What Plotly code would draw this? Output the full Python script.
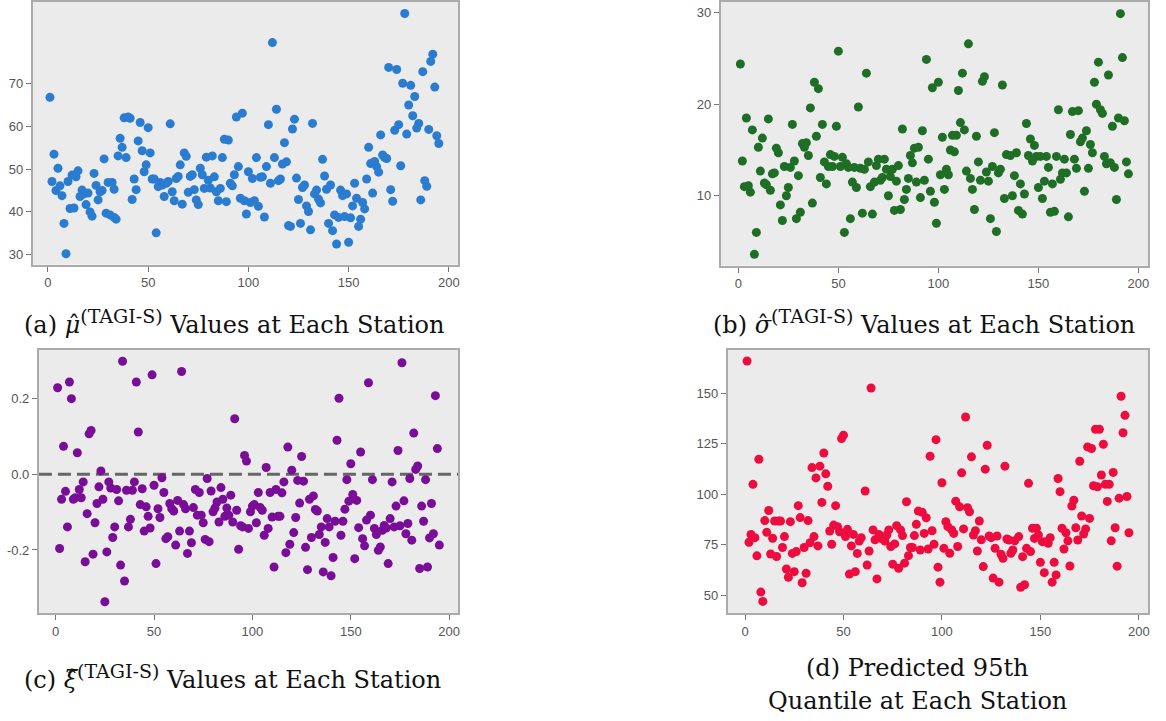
import plotly.graph_objects as go

W, H = 1166, 721

# ---- (a) location parameter per station ----
mu_station = [1, 2, 3, 4, 5, 6, 7, 8, 9, 10, 11, 12, 13, 14, 15, 16, 17, 18, 19, 20,
              21, 22, 23, 24, 25, 26, 27, 28, 29, 30, 31, 32, 33, 33, 34, 35, 36, 37, 38, 39,
              40, 41, 42, 43, 44, 45, 46, 47, 48, 49, 50, 51, 52, 53, 54, 55, 56, 57, 58, 59,
              60, 61, 62, 63, 64, 65, 66, 67, 68, 69, 70, 71, 72, 73, 74, 75, 76, 77, 78, 79,
              80, 81, 82, 83, 84, 85, 86, 87, 88, 89, 90, 91, 92, 93, 94, 95, 96, 97, 98, 99,
              100, 101, 102, 103, 104, 105, 106, 107, 108, 109, 110, 111, 112, 113, 114, 115, 116, 117, 118, 119,
              120, 121, 122, 123, 124, 125, 126, 127, 128, 129, 130, 131, 132, 133, 134, 135, 136, 137, 138, 139,
              140, 141, 142, 143, 144, 145, 146, 147, 148, 149, 150, 151, 152, 153, 154, 155, 156, 157, 158, 159,
              160, 161, 162, 163, 164, 165, 166, 167, 168, 169, 170, 171, 172, 173, 174, 175, 176, 177, 178, 179,
              180, 181, 182, 183, 184, 185, 186, 187, 188, 189, 190, 191, 192, 193, 194, 195]
mu_value = [66.8, 47.1, 53.5, 45.0, 50.2, 46.1, 43.8, 37.3, 30.2, 47.1, 40.8, 48.6, 40.9, 48.2, 49.6, 43.6, 45.1, 44.2, 41.7, 44.4,
            40.0, 39.0, 49.0, 46.2, 42.8, 44.7, 45.0, 52.4, 39.7, 46.9, 39.3, 46.9, 38.7, 45.3, 38.3, 53.1, 57.2, 55.1, 62.0, 52.7,
            62.2, 61.9, 42.9, 47.7, 45.2, 56.6, 60.9, 54.3, 49.4, 51.0, 59.7, 53.8, 47.7, 47.7, 35.1, 45.9, 46.9, 46.3, 43.6, 46.7,
            47.1, 60.6, 44.7, 42.6, 47.8, 48.3, 51.0, 41.8, 53.8, 53.0, 44.6, 48.3, 48.7, 45.2, 42.8, 41.7, 50.2, 48.7, 45.5, 52.8,
            47.4, 45.6, 53.1, 48.2, 44.7, 42.6, 45.5, 52.7, 57.0, 42.4, 56.8, 46.7, 46.1, 48.7, 62.2, 50.6, 43.2, 63.1, 42.6, 39.5,
            49.4, 42.2, 47.8, 42.6, 52.7, 41.3, 48.1, 48.2, 38.8, 50.6, 60.4, 46.7, 79.6, 52.7, 64.0, 47.3, 47.7, 51.2, 56.2, 51.7,
            36.8, 36.6, 59.4, 61.7, 47.9, 42.9, 37.3, 45.7, 46.3, 41.4, 40.1, 35.8, 60.7, 44.2, 45.1, 43.0, 42.1, 52.3, 48.4, 45.3,
            37.3, 46.3, 35.6, 39.3, 32.5, 38.7, 45.1, 43.8, 38.9, 44.2, 32.9, 38.6, 41.4, 46.7, 43.2, 36.6, 38.3, 42.2, 40.7, 47.7,
            55.1, 51.3, 44.4, 51.8, 50.6, 49.3, 58.0, 53.3, 52.7, 52.5, 73.8, 45.2, 42.5, 59.1, 73.3, 60.4, 50.8, 70.1, 86.4, 58.2,
            65.0, 69.6, 62.5, 67.0, 59.6, 60.7, 42.8, 72.8, 47.3, 46.0, 59.3, 75.2, 76.9, 69.2, 57.8, 56.0]

# ---- (b) scale parameter per station ----
sigma_station = list(range(1, 135)) + list(range(136, 196))
sigma_value = [24.4, 13.8, 11.0, 18.5, 11.1, 10.4, 17.2, 3.6, 6.0, 15.3, 12.7, 16.3, 11.4, 11.2, 18.4, 10.6, 12.4, 12.5, 15.2, 14.7,
               9.0, 7.3, 13.2, 10.0, 10.9, 13.1, 17.8, 13.8, 7.5, 12.2, 8.2, 15.7, 15.3, 15.8, 14.4, 19.6, 9.2, 22.4, 16.5, 21.7,
               12.0, 17.8, 13.7, 11.3, 13.2, 14.5, 13.2, 14.3, 17.6, 25.8, 13.2, 14.2, 6.0, 13.5, 13.1, 7.5, 11.5, 13.1, 10.9, 19.7,
               13.0, 8.1, 12.9, 23.4, 13.7, 11.0, 8.0, 11.5, 13.3, 14.0, 11.7, 12.0, 14.0, 12.9, 10.0, 12.1, 12.9, 8.4, 11.6, 13.3,
               8.5, 17.3, 9.6, 10.7, 11.9, 14.4, 13.6, 15.2, 11.5, 15.3, 9.8, 17.1, 11.7, 24.9, 14.0, 10.5, 21.8, 9.3, 7.0, 22.4,
               12.3, 16.4, 10.7, 12.9, 12.3, 15.0, 16.6, 14.8, 16.6, 21.5, 18.0, 23.4, 17.2, 12.7, 26.6, 11.9, 10.7, 8.5, 16.5, 13.7,
               11.7, 22.5, 23.0, 12.6, 11.6, 7.5, 13.2, 16.9, 6.1, 12.5, 12.9, 22.1, 9.7, 14.5,
               14.4, 10.0, 12.2, 14.7, 8.4, 11.3, 8.0, 10.2, 17.9, 14.4, 16.2, 13.8, 15.5, 14.3, 10.9, 14.3, 9.7, 11.6, 14.3, 13.1,
               8.2, 11.3, 8.3, 14.3, 19.4, 11.8, 12.5, 14.0, 12.5, 7.7, 16.7, 19.2, 14.0, 13.0, 19.3, 15.9, 16.3, 10.5, 17.1, 13.0,
               15.6, 14.7, 22.4, 20.0, 24.6, 19.4, 19.0, 14.3, 13.5, 23.2, 13.6, 17.6, 13.1, 9.6, 18.5, 29.9, 25.1, 18.2, 13.7, 12.4]

# ---- (c) shape parameter per station ----
xi_station = list(range(1, 196))
xi_value = [0.229, -0.196, -0.066, 0.074, -0.045, -0.139, 0.244, 0.200, -0.066, -0.062,
            0.057, -0.040, -0.062, -0.020, -0.231, -0.104, 0.107, 0.116, -0.211, -0.128,
            -0.077, -0.033, 0.009, -0.066, -0.337, -0.205, -0.020, -0.036, -0.167, -0.139,
            -0.040, -0.070, -0.240, 0.299, -0.282, -0.042, -0.139, -0.119, -0.042, -0.020,
            0.244, 0.112, -0.080, -0.038, -0.150, -0.086, -0.111, -0.142, 0.263, -0.029,
            -0.236, -0.091, -0.114, -0.009, -0.048, -0.170, -0.165, -0.077, -0.091, -0.097,
            -0.187, -0.069, -0.150, 0.272, -0.080, -0.091, -0.209, -0.150, -0.181, -0.088,
            -0.040, -0.108, -0.048, -0.108, -0.128, -0.172, -0.011, -0.178, -0.044, -0.099,
            -0.089, -0.073, -0.126, -0.035, -0.066, -0.111, -0.089, -0.108, -0.055, -0.126,
            0.147, -0.095, -0.198, -0.136, -0.139, 0.050, 0.035, -0.143, -0.099, -0.084,
            -0.080, -0.128, -0.048, -0.088, -0.095, -0.161, 0.018, -0.143, -0.048, -0.113,
            -0.245, -0.040, -0.111, -0.111, -0.049, -0.020, -0.207, 0.072, -0.185, 0.011,
            -0.154, -0.114, -0.016, -0.076, 0.047, -0.018, -0.193, -0.252, -0.066, -0.167,
            -0.057, -0.093, -0.097, -0.159, -0.139, -0.258, -0.180, -0.117, -0.139, -0.268,
            -0.220, -0.124, 0.090, 0.201, -0.161, -0.124, -0.092, -0.014, -0.071, 0.028,
            -0.053, -0.223, -0.069, -0.141, 0.059, -0.170, -0.189, -0.121, 0.242, -0.108,
            -0.014, -0.143, -0.159, -0.201, -0.192, -0.148, -0.135, -0.142, -0.236, -0.117,
            -0.020, -0.139, -0.084, 0.063, -0.136, 0.295, -0.070, -0.157, -0.130, -0.011,
            -0.174, 0.109, 0.013, 0.022, -0.249, -0.084, -0.124, -0.014, -0.245, -0.168,
            -0.077, -0.157, 0.208, 0.068, -0.187]

# ---- (d) predicted 95th quantile per station ----
q95_station = list(range(1, 60)) + list(range(61, 138)) + list(range(139, 196))
q95_value = [165.8, 76.3, 80.2, 104.9, 78.6, 69.6, 117.3, 51.7, 47.1, 87.0, 81.2, 92.0, 70.5, 78.3, 86.8, 69.3, 86.8, 86.8, 73.7, 79.1,
             63.1, 59.0, 86.5, 70.8, 61.8, 71.7, 94.4, 88.5, 56.3, 73.7, 61.0, 87.0, 76.1, 113.2, 79.1, 108.1, 74.5, 113.9, 96.0, 120.4,
             110.1, 104.0, 81.9, 75.3, 84.8, 94.4, 84.0, 81.5, 127.5, 129.2, 79.1, 82.7, 60.6, 74.5, 80.2, 61.8, 70.8, 76.9, 78.6,
             101.6, 65.1, 72.0, 152.5, 82.4, 77.5, 58.2, 80.2, 78.2, 78.6, 76.9, 79.9, 82.4, 74.2, 65.5, 75.5, 84.5, 63.5, 82.4, 79.6,
             66.0, 96.3, 69.7, 73.7, 73.7, 79.6, 85.2, 91.7, 72.5, 91.1, 80.7, 88.4, 73.0, 118.8, 82.0, 75.3, 127.0, 64.0, 56.6, 105.7,
             73.3, 86.5, 84.0, 70.9, 82.4, 80.7, 96.6, 74.2, 93.8, 110.6, 82.9, 138.2, 93.4, 91.4, 118.5, 79.9, 82.0, 72.0, 86.8, 77.5,
             64.3, 112.4, 124.2, 79.4, 78.6, 58.6, 73.3, 79.4, 56.6, 70.4, 68.4, 113.9, 77.9, 77.4, 70.9, 72.5, 77.0,
             79.1, 54.1, 69.2, 55.3, 73.3, 105.4, 71.7, 83.2, 78.2, 83.2, 79.9, 66.4, 76.6, 61.3, 76.6, 75.8, 78.6, 56.6, 66.4, 60.2,
             107.8, 101.3, 83.2, 73.0, 81.0, 77.0, 64.6, 94.2, 97.1, 83.5, 77.4, 116.3, 89.3, 80.4, 82.9, 123.4, 88.1, 122.6, 104.2, 132.1,
             103.7, 132.1, 109.5, 124.7, 104.9, 96.5, 104.9, 77.0, 110.8, 83.5, 64.5, 98.1, 148.4, 130.4, 139.0, 98.9, 81.0]

# Tick positions per panel
mu_ticks = [30, 40, 50, 60, 70]
sigma_ticks = [10, 20, 30]
xi_ticks = [-0.2, 0.0, 0.2]
xi_ticktext = ["-0.2", "0.0", "0.2"]
q95_ticks = [50, 75, 100, 125, 150]
station_ticks = [0, 50, 100, 150, 200]

BG = "#EBEBEB"
FRAME = "#ABABAB"
TICKFONT = dict(family="Liberation Sans, Arial, sans-serif", size=13, color="#555555")


def dom_x(left, right):
    return [left / W, right / W]


def dom_y(top, bottom):
    return [1 - bottom / H, 1 - top / H]


panels = [
    dict(x=mu_station, y=mu_value, color="#2A7CD1", box=(33, 459, 1, 264),
         xr=[-7.5, 204.7], yr=[27.66, 89.1], yt=mu_ticks, ytt=None),
    dict(x=sigma_station, y=sigma_value, color="#1F6E25", box=(722, 1150, 1, 265),
         xr=[-8.8, 204.8], yr=[2.37, 31.17], yt=sigma_ticks, ytt=None),
    dict(x=xi_station, y=xi_value, color="#790D98", box=(39, 459, 349, 613),
         xr=[-8.5, 204.6], yr=[-0.367, 0.33], yt=xi_ticks, ytt=xi_ticktext),
    dict(x=q95_station, y=q95_value, color="#EE0C3F", box=(729, 1150, 349, 613),
         xr=[-8.8, 204.7], yr=[41.3, 171.5], yt=q95_ticks, ytt=None),
]

fig = go.Figure()
layout = {}
for i, p in enumerate(panels, start=1):
    sfx = "" if i == 1 else str(i)
    left, right, top, bottom = p["box"]
    fig.add_trace(go.Scatter(
        x=p["x"], y=p["y"], mode="markers",
        marker=dict(color=p["color"], size=9, line=dict(width=0)),
        xaxis="x" + sfx, yaxis="y" + sfx, showlegend=False, hoverinfo="x+y",
    ))
    axis_common = dict(showgrid=False, zeroline=False, showline=True, mirror=True,
                       linecolor=FRAME, linewidth=2, ticks="outside", ticklen=5,
                       tickwidth=1, tickcolor="#777777", tickfont=TICKFONT)
    layout["xaxis" + sfx] = dict(domain=dom_x(left, right), range=p["xr"], anchor="y" + sfx,
                                 tickvals=station_ticks, **axis_common)
    yax = dict(domain=dom_y(top, bottom), range=p["yr"], anchor="x" + sfx,
               tickvals=p["yt"], **axis_common)
    if p["ytt"] is not None:
        yax["ticktext"] = p["ytt"]
    layout["yaxis" + sfx] = yax

fig.update_layout(**layout)

# zero reference line on the shape-parameter panel
fig.add_shape(type="line", xref="x3 domain", yref="y3", x0=0, x1=1, y0=0, y1=0,
              line=dict(color="#666666", width=3, dash="13px,6px"), layer="below")

# captions (left x, bottom y in pixels); hats drawn separately above the symbols
CAPFONT = dict(family="DejaVu Serif, serif", size=24, color="#111111")
SUP = "<sup><span style='font-size:19px'>(TAGI-S)</span></sup>"
captions = [
    (22, 340, "(a) <i>μ</i>" + SUP + " Values at Each Station", 74),
    (712, 340, "(b) <i>σ</i>" + SUP + " Values at Each Station", 764),
    (22, 696, "(c) <i>ξ</i>" + SUP + " Values at Each Station", 72),
]
for lx, by, txt, hat_x in captions:
    fig.add_annotation(x=lx / W, y=1 - by / H, xref="paper", yref="paper", text=txt,
                       showarrow=False, font=CAPFONT, xanchor="left", yanchor="bottom")
    fig.add_annotation(x=hat_x / W, y=1 - by / H, xref="paper", yref="paper", text="ˆ",
                       showarrow=False, font=CAPFONT, xanchor="center", yanchor="bottom")

for cy, line in [(684, "(d) Predicted 95th"), (717, "Quantile at Each Station")]:
    fig.add_annotation(x=919 / W, y=1 - cy / H, xref="paper", yref="paper", text=line,
                       showarrow=False, font=CAPFONT, xanchor="center", yanchor="bottom")

fig.update_layout(
    width=W, height=H, margin=dict(l=0, r=0, t=0, b=0),
    paper_bgcolor="white", plot_bgcolor=BG,
)

fig.write_html("out.html")
